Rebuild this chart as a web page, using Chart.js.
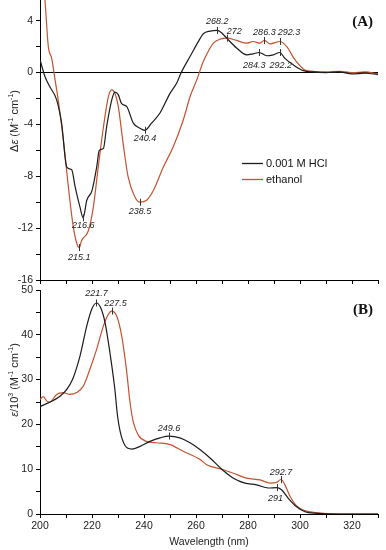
<!DOCTYPE html>
<html><head><meta charset="utf-8">
<script src="https://cdn.jsdelivr.net/npm/chart.js@4"></script>
<style>
html,body{margin:0;padding:0;background:#fff;}
#wrap{position:relative;width:386px;height:550px;overflow:hidden;background:#fff;}
#cA{position:absolute;left:0;top:0;}
#cB{position:absolute;left:0;top:280px;}
</style></head><body>
<div id="wrap"><canvas id="cA" width="386" height="290"></canvas><canvas id="cB" width="386" height="270"></canvas></div>
<script>
// ---------- DATA ----------
const seriesNames = ['0.001 M HCl', 'ethanol'];

// Panel A: CD spectra (Δε)
const cdHclWavelength = [200,201.9,203.8,206.4,208.3,210.3,212.2,213.5,215.4,216.6,218,220,221.8,222.8,224.4,225.6,227.6,228.8,230.1,231.4,233.3,235.9,238.5,240.4,242.9,246.2,250,252.6,254.3,257.7,261.5,262.8,265.4,268.2,269.9,271.8,275.6,279.5,282,284.3,287.2,289.7,292.2,294.2,297.4,301.3,305,310,315,320,325,330];
const cdHclValues     = [1.0,-0.3,-1.1,-2.1,-3.9,-7.3,-7.5,-8.8,-10.4,-11.2,-9.85,-9.1,-7.3,-6.0,-5.85,-4.2,-2.1,-1.5,-1.7,-2.4,-2.6,-3.9,-4.3,-4.45,-3.9,-3.1,-1.6,-0.8,0,1.24,2.6,3.0,3.2,3.25,3.05,2.66,1.9,1.37,1.45,1.55,1.3,1.37,1.55,1.1,0.6,0.15,0.05,0.0,0.05,-0.1,-0.05,-0.15];
const cdEthWavelength = [200,201.9,203.2,204.5,205.8,207,209,210.9,212.8,214.2,215.1,216,218.6,220.5,222.4,224.4,226.3,227.6,228.8,230.1,232,233.9,236.5,238.5,241,243.6,247.4,251.3,255.1,257.7,260.3,262.8,264.7,266.7,269.2,272,275.6,279.5,282,284.6,286.3,288.5,292.3,294.9,298.1,301.9,305,310,315,320,325,330];
const cdEthValues     = [9,5.6,2.0,1.1,-0.56,-2.1,-5.2,-8.8,-11.9,-13.2,-13.5,-12.95,-12.2,-10.4,-7.3,-4.2,-1.86,-1.34,-1.6,-2.6,-5.5,-8.05,-9.6,-10.0,-9.85,-9.1,-7.3,-5.7,-3.66,-1.86,-0.56,0.85,1.63,2.27,2.58,2.66,2.48,2.27,2.4,2.27,2.48,2.22,2.4,2.0,0.98,0.2,0.1,0.05,0.1,0.0,0.05,-0.1];

// Panel B: absorption spectra (ε/10^3)
const absHclWavelength = [200,203.2,207.7,210.3,212.5,215.4,218,219.9,221.7,223.3,225,226.9,228.8,229.7,230.8,232.7,235.3,238.5,242.3,246.2,249.6,253.8,257.7,261.5,265.4,269.9,274.4,278.8,283.3,287.8,291,292.9,295.5,298.7,301.9,306.4,310,320,330];
const absHclValues     = [24.0,24.8,26.3,27.8,30.0,35.3,42,45.7,47.1,46.1,42.8,36,27.8,22.5,18.5,15.3,14.5,15.1,16.2,17.0,17.4,17.0,15.9,14.4,12.5,10.0,8.0,6.9,6.5,5.8,5.9,5.4,3.5,1.6,0.5,0.15,0.05,0,0];
const absEthWavelength = [200,201.3,202.6,203.8,206.4,209,211.5,214.1,216.7,219.2,221.8,224.4,226.3,227.5,229.5,231.4,233.3,234.6,235.9,237.8,241,244.9,250,255.1,261.5,264.1,269.9,274.4,279.5,284.6,288.5,290.8,292.7,294.2,296.2,298.7,301.9,306.4,310,320,330];
const absEthValues     = [25.6,26.2,25.2,25.0,26.7,27.1,26.7,27.1,28.6,32.3,36.8,42,44.6,45.3,44.2,39.8,32,25,20.5,17.6,16.2,15.9,15.5,14.0,12.2,11.0,10.0,9.1,8.0,7.6,6.9,7.0,7.7,6.5,3.9,1.8,0.75,0.3,0.1,0,0];

// Peak annotations: [wavelength, value, label]
const cdPeaks  = [[216.6,-11.2,'216.6'],[215.1,-13.5,'215.1'],[240.4,-4.45,'240.4'],[238.5,-10.0,'238.5'],[268.2,3.25,'268.2'],[272,2.66,'272'],[286.3,2.48,'286.3'],[292.3,2.4,'292.3'],[284.3,1.55,'284.3'],[292.2,1.55,'292.2']];
const absPeaks = [[221.7,47.1,'221.7'],[227.5,45.3,'227.5'],[249.6,17.4,'249.6'],[292.7,7.7,'292.7'],[291,5.9,'291']];

// Tick values
const xTickValues   = [200,210,220,230,240,250,260,270,280,290,300,310,320,330];
const xTickLabels   = [200,220,240,260,280,300,320];
const cdTickValues  = [-16,-14,-12,-10,-8,-6,-4,-2,0,2,4];
const cdTickLabels  = [-16,-12,-8,-4,0,4];
const absTickValues = [0,5,10,15,20,25,30,35,40,45,50];
const absTickLabels = [0,10,20,30,40,50];

// ---------- STYLE / LAYOUT ----------
const BLACK = '#1c1c1c';
const RED = '#c4532f';
const FONT = '"Liberation Sans", Arial, sans-serif';
const cdPlacement  = [[0,8],[0,10],[0,8],[0,9],[0,-9],[7,-7],[0,-8],[9,-9],[-5,13],[1,13]];
const absPlacement = [[0,-9],[4,-8],[0,-8],[0,-7],[-1,11]];

function series(w, v){ return w.map((x,i)=>({x:x, y:v[i]})); }

function peaksPlugin(peaks, place){
  return {id:'peaks', afterDatasetsDraw(chart){
    const ctx = chart.ctx, xs = chart.scales.x, ys = chart.scales.y;
    ctx.save();
    ctx.strokeStyle = '#333'; ctx.lineWidth = 1; ctx.fillStyle = '#222';
    ctx.font = 'italic 9px ' + FONT; ctx.textAlign = 'center'; ctx.textBaseline = 'middle';
    peaks.forEach((p,i)=>{
      const px = xs.getPixelForValue(p[0]), py = ys.getPixelForValue(p[1]);
      ctx.beginPath(); ctx.moveTo(Math.round(px)+0.5, py-3.5); ctx.lineTo(Math.round(px)+0.5, py+3.5); ctx.stroke();
      ctx.fillText(p[2], px+place[i][0], py+place[i][1]);
    });
    ctx.restore();
  }};
}

function richTitle(cx, cy, segs){
  return {id:'ytitle', afterDraw(chart){
    const ctx = chart.ctx;
    ctx.save();
    ctx.translate(cx, cy); ctx.rotate(-Math.PI/2);
    ctx.fillStyle = '#222'; ctx.textBaseline = 'alphabetic'; ctx.textAlign = 'left';
    let total = 0;
    segs.forEach(s=>{ ctx.font = s.f; s.w = ctx.measureText(s.t).width; total += s.w; });
    let x = -total/2;
    segs.forEach(s=>{ ctx.font = s.f; ctx.fillText(s.t, x, s.sup ? -1 : 4); x += s.w; });
    ctx.restore();
  }};
}

function panelLabel(text, x, y){
  return {id:'plabel', afterDraw(chart){
    const ctx = chart.ctx; ctx.save();
    ctx.font = 'bold 15px "Liberation Serif", "Times New Roman", serif';
    ctx.fillStyle = '#111'; ctx.textAlign = 'right'; ctx.textBaseline = 'middle';
    ctx.fillText(text, x, y); ctx.restore();
  }};
}

const legendPlugin = {id:'legendA', afterDraw(chart){
  const ctx = chart.ctx; ctx.save();
  const items = [[seriesNames[0], BLACK, 163],[seriesNames[1], RED, 179]];
  ctx.font = '11px ' + FONT; ctx.textBaseline = 'middle'; ctx.textAlign = 'left';
  items.forEach(it=>{
    ctx.strokeStyle = it[1]; ctx.lineWidth = 1.3;
    ctx.beginPath(); ctx.moveTo(242, it[2]+0.5); ctx.lineTo(263, it[2]+0.5); ctx.stroke();
    ctx.fillStyle = '#111'; ctx.fillText(it[0], 266, it[2]+0.5);
  });
  ctx.restore();
}};

const N = '11px ' + FONT, I = 'italic 11px ' + FONT, S = '7px ' + FONT;

function lineDs(label, data, color){
  return {label, data, borderColor:color, backgroundColor:color, borderWidth:1.2, pointRadius:0, cubicInterpolationMode:'monotone', fill:false};
}

const tickFont = {family: FONT, size: 10.5};
function noPadY(s, w){ s.width = w; s.paddingTop = 0; s.paddingBottom = 0; }
function noPadX(s, h){ s.height = h; s.paddingLeft = 0; s.paddingRight = 0; }

new Chart(document.getElementById('cA'), {
  type:'line',
  data:{datasets:[
    lineDs(seriesNames[0], series(cdHclWavelength, cdHclValues), BLACK),
    lineDs(seriesNames[1], series(cdEthWavelength, cdEthValues), RED)
  ]},
  options:{
    responsive:false, animation:false, devicePixelRatio:1,
    layout:{padding:{left:0,right:8,top:0,bottom:0}},
    plugins:{legend:{display:false}, tooltip:{enabled:false}},
    scales:{
      x:{type:'linear', min:200, max:330,
         afterBuildTicks:s=>{ s.ticks = xTickValues.map(v=>({value:v})); },
         ticks:{display:false},
         grid:{drawOnChartArea:false, drawTicks:true, tickLength:4, tickColor:'#000', tickWidth:1},
         border:{color:'#000', width:1},
         afterFit:s=>noPadX(s, 10)},
      y:{type:'linear', min:-16, max:5.6,
         afterBuildTicks:s=>{ s.ticks = cdTickValues.map(v=>({value:v})); },
         ticks:{callback:v=>cdTickLabels.includes(v)?String(v):'', font:tickFont, color:'#222', padding:3},
         grid:{color:c=>(c.tick && c.tick.value===0)?'#000':'rgba(0,0,0,0)', tickColor:'#000', tickLength:4, lineWidth:1},
         border:{color:'#000', width:1},
         afterFit:s=>noPadY(s, 40)}
    }
  },
  plugins:[peaksPlugin(cdPeaks, cdPlacement), legendPlugin, panelLabel('(A)', 373, 22),
    richTitle(14, 121, [{t:'Δ',f:N},{t:'ε',f:I},{t:' (M',f:N},{t:'-1',f:S,sup:true},{t:' cm',f:N},{t:'-1',f:S,sup:true},{t:')',f:N}])]
});

new Chart(document.getElementById('cB'), {
  type:'line',
  data:{datasets:[
    lineDs(seriesNames[0], series(absHclWavelength, absHclValues), BLACK),
    lineDs(seriesNames[1], series(absEthWavelength, absEthValues), RED)
  ]},
  options:{
    responsive:false, animation:false, devicePixelRatio:1,
    layout:{padding:{left:0,right:8,top:10,bottom:0}},
    plugins:{legend:{display:false}, tooltip:{enabled:false}},
    scales:{
      x:{type:'linear', min:200, max:330,
         afterBuildTicks:s=>{ s.ticks = xTickValues.map(v=>({value:v})); },
         ticks:{callback:v=>xTickLabels.includes(v)?String(v):'', font:tickFont, color:'#222', padding:2, maxRotation:0, autoSkip:false},
         grid:{drawOnChartArea:false, drawTicks:true, tickLength:4, tickColor:'#000'},
         border:{color:'#000', width:1},
         title:{display:true, text:'Wavelength (nm)', font:{family:FONT, size:10.5}, color:'#222', padding:{top:0,bottom:2}},
         afterFit:s=>noPadX(s, 36)},
      y:{type:'linear', min:0, max:50,
         afterBuildTicks:s=>{ s.ticks = absTickValues.map(v=>({value:v})); },
         ticks:{callback:v=>absTickLabels.includes(v)?String(v):'', font:tickFont, color:'#222', padding:3},
         grid:{drawOnChartArea:false, tickColor:'#000', tickLength:4},
         border:{color:'#000', width:1},
         afterFit:s=>noPadY(s, 40)}
    }
  },
  plugins:[peaksPlugin(absPeaks, absPlacement), panelLabel('(B)', 373, 30),
    richTitle(14, 100, [{t:'ε',f:I},{t:'/10',f:N},{t:'3',f:S,sup:true},{t:' (M',f:N},{t:'-1',f:S,sup:true},{t:' cm',f:N},{t:'-1',f:S,sup:true},{t:')',f:N}])]
});
</script>
</body></html>
